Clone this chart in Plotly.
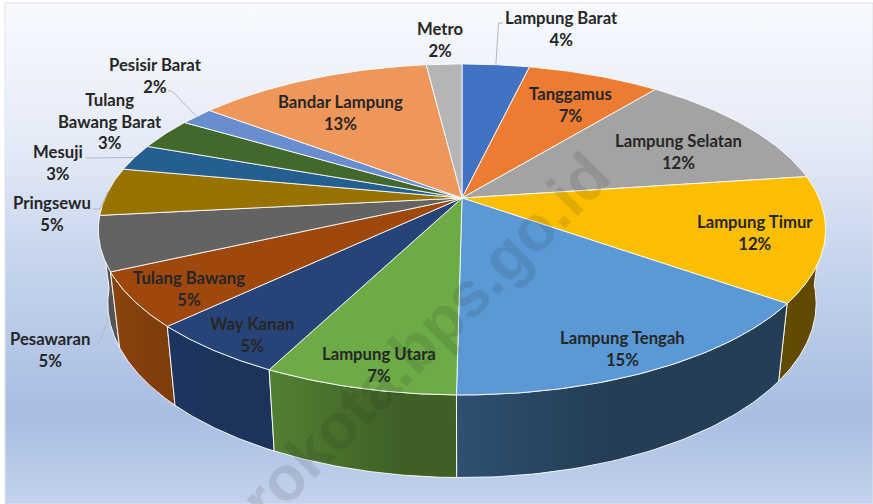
import numpy as np
import plotly.graph_objects as go

# ---------- data ----------
categories = ["Lampung Barat", "Tanggamus", "Lampung Selatan", "Lampung Timur", "Lampung Tengah",
              "Lampung Utara", "Way Kanan", "Tulang Bawang", "Pesawaran", "Pringsewu",
              "Mesuji", "Tulang Bawang Barat", "Pesisir Barat", "Bandar Lampung", "Metro"]
shares = [3.6, 7.1, 12.1, 12.2, 15.2, 7.2, 5.3, 5.3, 5.3, 4.7, 2.6, 3.1, 1.8, 12.6, 1.9]
colors = ["#4272c2", "#eb7c31", "#a3a3a3", "#fcbe00", "#5a99d5", "#6dab47", "#264478", "#9e480e",
          "#636363", "#997300", "#255e91", "#43682b", "#698ed0", "#ef965a", "#b5b5b5"]
wall_left = {"Lampung Timur": "#634c00", "Lampung Tengah": "#2f5072", "Lampung Utara": "#538033",
             "Way Kanan": "#1c355f", "Tulang Bawang": "#8a430c", "Pesawaran": "#4a4a4a"}
wall_right = {"Lampung Timur": "#5f4800", "Lampung Tengah": "#233e55", "Lampung Utara": "#3f5f25",
              "Way Kanan": "#1c3459", "Tulang Bawang": "#7d3c0a", "Pesawaran": "#5a5a5a"}
wall_stop = {"Lampung Tengah": 0.45, "Lampung Utara": 0.7}
display_names = {"Tulang Bawang Barat": "Tulang<br>Bawang Barat"}

# ---------- layout of the perspective pie ----------
W, H = 873, 504
CX, CY, RX, RY, K = 462.0, 198.0, 357.0, 159.5, 0.19
SX, SY, DROP = 0.974, 1.054, 72.0
label_pos = {
    "Lampung Barat": (561, 29), "Tanggamus": (570, 105), "Lampung Selatan": (678, 152),
    "Lampung Timur": (755, 233), "Lampung Tengah": (622, 349), "Lampung Utara": (379, 365),
    "Way Kanan": (252, 335), "Tulang Bawang": (189, 289), "Pesawaran": (50, 350),
    "Pringsewu": (52, 214), "Mesuji": (58, 163), "Tulang Bawang Barat": (110, 121),
    "Pesisir Barat": (155, 76), "Bandar Lampung": (340, 113), "Metro": (440, 40),
}
leader_elbows = {
    "Lampung Barat": [(498.5, 23), (503, 23)],
    "Pesisir Barat": [(172, 91), (168, 91)],
    "Mesuji": [(86, 158)],
    "Pringsewu": [(100, 209), (93, 209)],
    "Pesawaran": [(98, 344), (93, 344)],
}
leader_from_base = {"Pesawaran"}


def top(theta):
    x, y = np.sin(theta), np.cos(theta)
    d = 1 + K * y
    return CX + RX * x / d, CY - RY * y / d


def bottom(theta):
    px, py = top(theta)
    return CX + (px - CX) * SX, CY + (py - CY) * SY + DROP


edges = np.concatenate([[0], np.cumsum(shares)]) / sum(shares) * 2 * np.pi
fig = go.Figure()

# background panel
fig.add_trace(go.Scatter(
    x=[5, W, W, 5, 5], y=[3, 3, H, H, 3], mode="lines", fill="toself", line=dict(color="#dfe3e8", width=1),
    fillgradient=dict(type="vertical", start=3, stop=H,
                      colorscale=[[0, "#f8fafe"], [0.3, "#e3e9f6"], [0.5, "#c8d6ed"], [0.82, "#a9bde3"], [1, "#c4d3ec"]]),
    hoverinfo="skip", showlegend=False))

# side walls, from the sides towards the front
front = [i for i, c in enumerate(categories) if c in wall_left]
front.sort(key=lambda i: abs((edges[i] + edges[i + 1]) / 2 - np.pi), reverse=True)
for i in front:
    c = categories[i]
    a0, a1 = max(edges[i], np.radians(95)), min(edges[i + 1], np.radians(265))
    t = np.linspace(a0, a1, 60)
    xt, yt = top(t)
    xb, yb = bottom(t[::-1])
    xs = np.r_[xt, xb, xt[0]]
    ys = np.r_[yt, yb, yt[0]]
    stop = wall_stop.get(c, 1.0)
    scale = [[0, wall_left[c]], [stop, wall_right[c]]] + ([[1, wall_right[c]]] if stop < 1 else [])
    fig.add_trace(go.Scatter(
        x=xs, y=ys, mode="lines", fill="toself", line=dict(color="rgba(255,255,255,0.9)", width=1),
        fillgradient=dict(type="horizontal", start=xs.min(), stop=xs.max(), colorscale=scale),
        hoverinfo="skip", showlegend=False))

# top face
for i, c in enumerate(categories):
    t = np.linspace(edges[i], edges[i + 1], 60)
    xt, yt = top(t)
    fig.add_trace(go.Scatter(
        x=np.r_[CX, xt, CX], y=np.r_[CY, yt, CY], mode="lines", fill="toself", fillcolor=colors[i],
        line=dict(color="rgba(255,255,255,0.85)", width=1), name=c, hoverinfo="name", showlegend=False))

# leader lines
for name, elbow in leader_elbows.items():
    i = categories.index(name)
    mid = (edges[i] + edges[i + 1]) / 2
    sx, sy = bottom(mid) if name in leader_from_base else top(mid)
    fig.add_trace(go.Scatter(
        x=[sx] + [p[0] for p in elbow], y=[sy] + [p[1] for p in elbow], mode="lines",
        line=dict(color="#b4b8bf", width=1), hoverinfo="skip", showlegend=False))

annotations = [dict(x=425, y=337, xref="x", yref="y", text="<b>rokota.bps.go.id</b>", showarrow=False,
                    textangle=-45, font=dict(family="Liberation Sans", size=63, color="rgba(30,30,30,0.12)"))]
for i, c in enumerate(categories):
    x, y = label_pos[c]
    annotations.append(dict(
        x=x, y=y, xref="x", yref="y", showarrow=False, align="center",
        text=f"<b>{display_names.get(c, c)}<br>{round(shares[i])}%</b>",
        font=dict(family="Lato", size=16.7, color="#262626")))

fig.update_layout(
    width=W, height=H, margin=dict(l=0, r=0, t=0, b=0), paper_bgcolor="white", plot_bgcolor="white",
    xaxis=dict(range=[0, W], visible=False, fixedrange=True),
    yaxis=dict(range=[H, 0], visible=False, fixedrange=True),
    annotations=annotations, showlegend=False)
fig.write_html("out.html", config={"displayModeBar": False},
               post_script="document.body.style.margin='0';")
